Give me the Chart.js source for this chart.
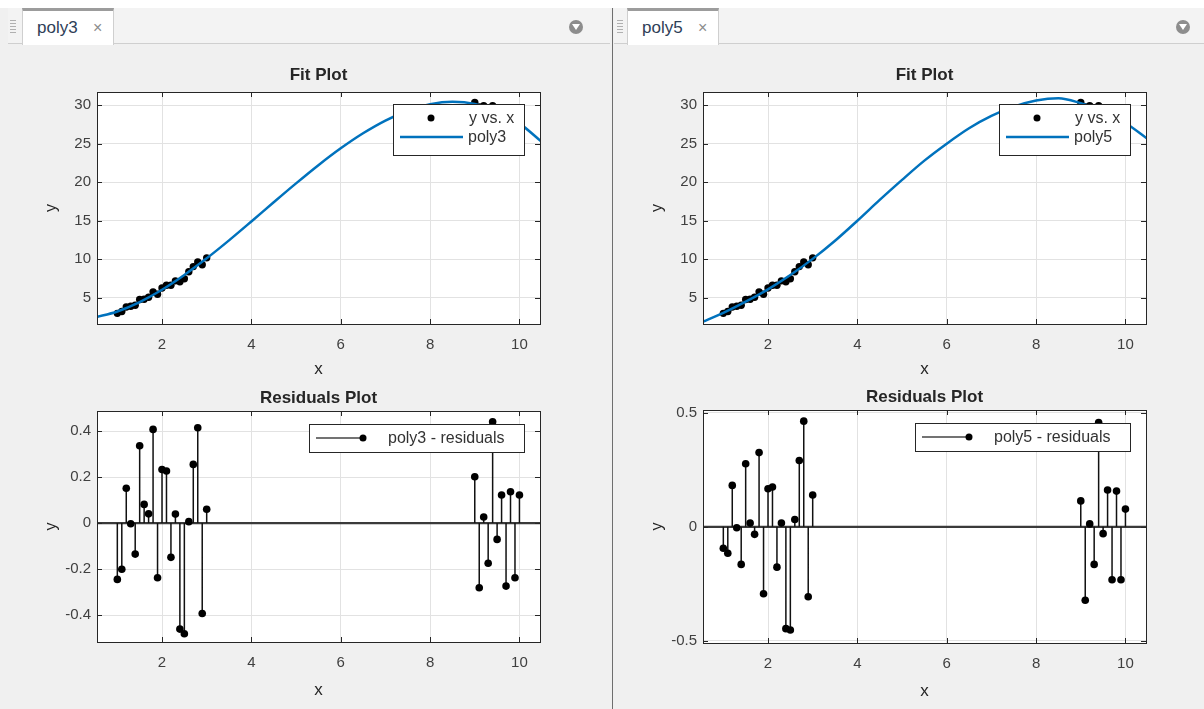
<!DOCTYPE html>
<html>
<head>
<meta charset="utf-8">
<script src="https://cdn.jsdelivr.net/npm/chart.js@4.4.1/dist/chart.umd.min.js"></script>
<style>
  body { margin: 0; width: 1204px; height: 709px; background: #f0f0f0; position: relative; overflow: hidden;
         font-family: "Liberation Sans", Arial, sans-serif; }
  .strip { position: absolute; left: 0; top: 0; width: 1204px; height: 8px; background: #fff; }
  .bar { position: absolute; top: 8px; height: 35px; background: #f3f3f3; border-bottom: 1px solid #cfcfcf; }
  .tab { position: absolute; top: 8px; height: 37px; background: #fff; box-sizing: border-box;
         border: 1px solid #cfcfcf; border-top: 3px solid #9c9c9c; border-bottom: none; }
  .tab .name { position: absolute; left: 14px; top: 7px; font-size: 17px; color: #2e4057; }
  .tab .close { position: absolute; top: 8px; font-size: 16px; color: #8c8c8c; }
  .grip { position: absolute; top: 20px; width: 6px; height: 14px;
          background: repeating-linear-gradient(#b0b0b0 0 1px, transparent 1px 3px); }
  .menu { position: absolute; top: 20px; width: 14px; height: 14px; border-radius: 50%; background: #8d8d8d; }
  .menu::after { content: ""; position: absolute; left: 3px; top: 4px; border-left: 4px solid transparent;
                 border-right: 4px solid transparent; border-top: 6px solid #fff; }
  .divider { position: absolute; left: 612px; top: 8px; width: 1px; height: 701px; background: #6e6e6e; }
  canvas { position: absolute; }
</style>
</head>
<body>
<div class="strip"></div>
<div class="bar" style="left:8px; width:602px"></div>
<div class="bar" style="left:614px; width:590px"></div>
<div class="grip" style="left:10px"></div>
<div class="grip" style="left:617px"></div>
<div class="tab" style="left:22px; width:92px"><span class="name">poly3</span><span class="close" style="left:70px">×</span></div>
<div class="tab" style="left:627px; width:92px"><span class="name">poly5</span><span class="close" style="left:70px">×</span></div>
<div class="menu" style="left:569px"></div>
<div class="menu" style="left:1176px"></div>
<div class="divider"></div>

<canvas id="fit3" width="533" height="337" style="left:17px; top:47px"></canvas>
<canvas id="res3" width="533" height="336" style="left:17px; top:366px"></canvas>
<canvas id="fit5" width="533" height="337" style="left:623px; top:47px"></canvas>
<canvas id="res5" width="533" height="338" style="left:623px; top:365px"></canvas>

<script>
// measured data (x, y) and residuals of both fits
const xData = [1.0, 1.1, 1.2, 1.3, 1.4, 1.5, 1.6, 1.7, 1.8, 1.9, 2.0, 2.1, 2.2, 2.3, 2.4, 2.5, 2.6, 2.7, 2.8, 2.9, 3.0,
               9.0, 9.1, 9.2, 9.3, 9.4, 9.5, 9.6, 9.7, 9.8, 9.9, 10.0];
const yData = [2.98, 3.23, 3.81, 3.90, 4.03, 4.78, 4.81, 5.08, 5.77, 5.46, 6.27, 6.63, 6.62, 7.20, 7.09, 7.48, 8.38, 9.05, 9.64, 9.28, 10.18,
               30.36, 29.76, 29.91, 29.53, 29.93, 29.19, 29.11, 28.42, 28.51, 27.78, 27.75];
const resid3 = [-0.245, -0.201, 0.151, -0.003, -0.135, 0.336, 0.081, 0.040, 0.407, -0.238, 0.233, 0.226, -0.149, 0.039, -0.461, -0.481, 0.006, 0.255, 0.414, -0.393, 0.060,
                0.201, -0.281, 0.026, -0.175, 0.440, -0.071, 0.122, -0.274, 0.136, -0.238, 0.122];
const resid5 = [-0.094, -0.116, 0.182, -0.004, -0.165, 0.277, 0.017, -0.033, 0.326, -0.294, 0.167, 0.175, -0.177, 0.017, -0.447, -0.453, 0.032, 0.291, 0.464, -0.307, 0.140,
                0.114, -0.322, 0.013, -0.165, 0.458, -0.030, 0.162, -0.232, 0.157, -0.232, 0.078];

const fitX = [0.5, 1.0, 1.5, 2.0, 2.5, 3.0, 3.5, 4.0, 4.5, 5.0, 5.5, 6.0, 6.5, 7.0, 7.5, 8.0, 8.5, 9.0, 9.5, 10.0, 10.5];
const fit3 = [2.46, 3.22, 4.44, 6.04, 7.96, 10.12, 12.45, 14.90, 17.39, 19.84, 22.20, 24.39, 26.34, 27.99, 29.27, 30.10, 30.42, 30.16, 29.26, 27.63, 25.22];
const fit5 = [1.80, 3.05, 4.50, 6.10, 7.95, 10.05, 12.40, 15.00, 17.70, 20.30, 22.80, 25.00, 27.00, 28.60, 29.80, 30.60, 30.90, 30.25, 29.22, 27.67, 25.60];

const xTicks = [2, 4, 6, 8, 10];
const fitTicks = [5, 10, 15, 20, 25, 30];
const resTicks3 = [-0.4, -0.2, 0, 0.2, 0.4];
const resTicks5 = [-0.5, 0, 0.5];

const X_MIN = 0.545, X_MAX = 10.46;
const BLUE = '#0072bd';
const AXIS = '#262626';
const FONT = '"Liberation Sans", Arial, sans-serif';

// titles, axis labels, box, inward ticks and the in-plot legend (MATLAB style)
const decoPlugin = {
  id: 'deco',
  beforeDraw(chart) {
    const ca = chart.chartArea;
    chart.ctx.save();
    chart.ctx.fillStyle = '#fff';
    chart.ctx.fillRect(ca.left, ca.top, ca.right - ca.left, ca.bottom - ca.top);
    chart.ctx.restore();
  },
  afterDraw(chart, args, opts) {
    const ctx = chart.ctx;
    const ca = chart.chartArea;
    const sx = chart.scales.x, sy = chart.scales.y;
    ctx.save();
    ctx.fillStyle = AXIS;
    ctx.textAlign = 'center';
    ctx.textBaseline = 'middle';
    ctx.font = 'bold 17px ' + FONT;
    ctx.fillText(opts.title, (ca.left + ca.right) / 2, ca.top - opts.titleDy);
    ctx.font = '17px ' + FONT;
    ctx.fillText('x', (ca.left + ca.right) / 2, ca.bottom + opts.xlabelDy);
    ctx.save();
    ctx.translate(ca.left - 45, (ca.top + ca.bottom) / 2);
    ctx.rotate(-Math.PI / 2);
    ctx.font = '16px ' + FONT;
    ctx.fillText('y', 0, 0);
    ctx.restore();

    // inward tick marks
    ctx.strokeStyle = AXIS;
    ctx.lineWidth = 1;
    ctx.beginPath();
    sx.ticks.forEach(t => {
      const px = Math.round(sx.getPixelForValue(t.value)) + 0.5;
      ctx.moveTo(px, ca.bottom); ctx.lineTo(px, ca.bottom - 5);
      ctx.moveTo(px, ca.top); ctx.lineTo(px, ca.top + 5);
    });
    sy.ticks.forEach(t => {
      const py = Math.round(sy.getPixelForValue(t.value)) + 0.5;
      ctx.moveTo(ca.left, py); ctx.lineTo(ca.left + 5, py);
      ctx.moveTo(ca.right, py); ctx.lineTo(ca.right - 5, py);
    });
    ctx.stroke();
    ctx.strokeRect(Math.round(ca.left) + 0.5, Math.round(ca.top) + 0.5,
                   Math.round(ca.right - ca.left), Math.round(ca.bottom - ca.top));

    // legend
    const lg = opts.legend;
    const bx = ca.right - lg.right - lg.w, by = ca.top + lg.top;
    ctx.fillStyle = '#fff';
    ctx.fillRect(bx, by, lg.w, lg.h);
    ctx.strokeStyle = AXIS;
    ctx.strokeRect(bx + 0.5, by + 0.5, lg.w, lg.h);
    ctx.font = '16px ' + FONT;
    ctx.textAlign = 'left';
    lg.items.forEach(it => {
      const y = by + it.dy;
      if (it.kind === 'dot') {
        ctx.fillStyle = '#000';
        ctx.beginPath(); ctx.arc(bx + it.x2, y, 3.5, 0, Math.PI * 2); ctx.fill();
      } else {
        ctx.strokeStyle = it.color; ctx.lineWidth = it.width;
        ctx.beginPath(); ctx.moveTo(bx + it.x1, y); ctx.lineTo(bx + it.x2, y); ctx.stroke();
        if (it.kind === 'stem') {
          ctx.fillStyle = '#000';
          ctx.beginPath(); ctx.arc(bx + it.x2, y, 3.5, 0, Math.PI * 2); ctx.fill();
        }
      }
      ctx.fillStyle = '#333';
      ctx.fillText(it.label, bx + it.tx, y + 1);
    });
    ctx.restore();
  }
};

function axisOptions(yMin, yMax, yTicks) {
  return {
    x: {
      type: 'linear', min: X_MIN, max: X_MAX,
      afterBuildTicks: s => { s.ticks = xTicks.map(v => ({ value: v })); },
      afterFit: s => { s.height = 60; },
      grid: { color: '#e2e2e2', drawTicks: false },
      border: { display: false },
      ticks: { color: '#404040', padding: 12, font: { size: 15, family: FONT }, maxRotation: 0 }
    },
    y: {
      type: 'linear', min: yMin, max: yMax,
      afterBuildTicks: s => { s.ticks = yTicks.map(v => ({ value: v })); },
      afterFit: s => { s.width = 80; },
      grid: { color: '#e2e2e2', drawTicks: false },
      border: { display: false },
      ticks: { color: '#404040', padding: 6, font: { size: 15, family: FONT }, callback: v => String(v) }
    }
  };
}

function baseOptions(scales, deco) {
  return {
    responsive: false, animation: false, devicePixelRatio: 1,
    layout: { padding: { top: 45, right: 10, left: 0, bottom: 0 } },
    scales: scales,
    plugins: { legend: { display: false }, tooltip: { enabled: false }, deco: deco }
  };
}

function fitChart(id, curve, name) {
  new Chart(document.getElementById(id), {
    type: 'scatter',
    data: {
      datasets: [
        { type: 'line', data: fitX.map((x, i) => ({ x: x, y: curve[i] })), borderColor: BLUE, borderWidth: 2.5,
          pointRadius: 0, cubicInterpolationMode: 'monotone' },
        { data: xData.map((x, i) => ({ x: x, y: yData[i] })), backgroundColor: '#000', borderColor: '#000',
          pointRadius: 3.7, pointBorderWidth: 0 }
      ]
    },
    options: baseOptions(axisOptions(1.6, 31.7, fitTicks), {
      title: 'Fit Plot', titleDy: 17, xlabelDy: 45,
      legend: { right: 16, top: 12, w: 131, h: 51, items: [
        { kind: 'dot', x2: 38, dy: 14, tx: 76, label: 'y vs. x' },
        { kind: 'line', x1: 7, x2: 70, dy: 33, tx: 75, color: BLUE, width: 2.5, label: name }
      ] }
    }),
    plugins: [decoPlugin]
  });
}

function resChart(id, resid, yMin, yMax, yTicks, name) {
  const stems = [];
  xData.forEach((x, i) => { stems.push({ x: x, y: 0 }, { x: x, y: resid[i] }, { x: x, y: null }); });
  new Chart(document.getElementById(id), {
    type: 'scatter',
    data: {
      datasets: [
        { data: xData.map((x, i) => ({ x: x, y: resid[i] })), backgroundColor: '#000', pointRadius: 3.8, pointBorderWidth: 0 },
        { type: 'line', data: stems, borderColor: '#111', borderWidth: 1.5, pointRadius: 0, spanGaps: false },
        { type: 'line', data: [{ x: X_MIN, y: 0 }, { x: X_MAX, y: 0 }], borderColor: '#3a3a3a', borderWidth: 2.2, pointRadius: 0 }
      ]
    },
    options: baseOptions(axisOptions(yMin, yMax, yTicks), {
      title: 'Residuals Plot', titleDy: 13, xlabelDy: 48,
      legend: { right: 16, top: 13, w: 215, h: 28, items: [
        { kind: 'stem', x1: 7, x2: 54, dy: 14, tx: 79, color: '#444', width: 1.5, label: name + ' - residuals' }
      ] }
    }),
    plugins: [decoPlugin]
  });
}

fitChart('fit3', fit3, 'poly3');
fitChart('fit5', fit5, 'poly5');
resChart('res3', resid3, -0.517, 0.487, resTicks3, 'poly3');
resChart('res5', resid5, -0.51, 0.513, resTicks5, 'poly5');
</script>
</body>
</html>
